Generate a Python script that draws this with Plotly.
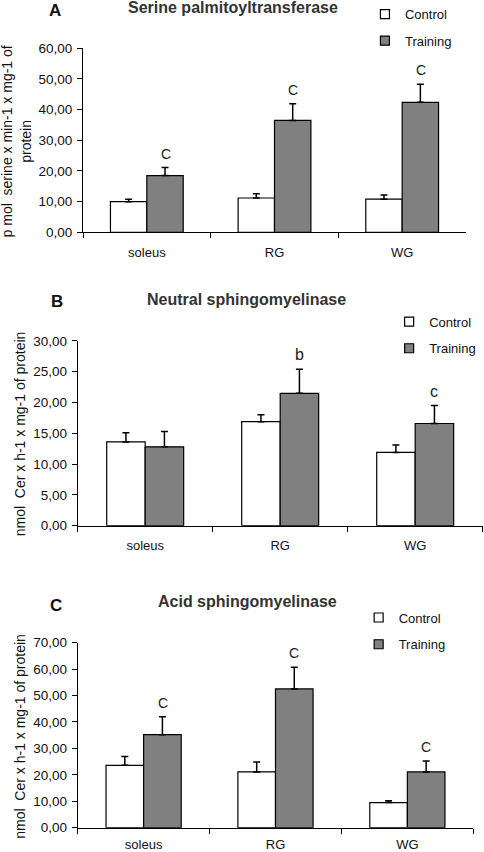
import plotly.graph_objects as go

categories = ["soleus", "RG", "WG"]

# Panel A: Serine palmitoyltransferase
a_control = [10.0, 11.2, 10.8]
a_control_err = [0.8, 1.4, 1.4]
a_training = [18.5, 36.5, 42.4]
a_training_err = [2.6, 5.4, 5.9]
a_letters = ["C", "C", "C"]

# Panel B: Neutral sphingomyelinase
b_control = [13.6, 16.9, 11.9]
b_control_err = [1.5, 1.1, 1.2]
b_training = [12.8, 21.5, 16.6]
b_training_err = [2.5, 3.9, 2.9]
b_letters = ["", "b", "c"]

# Panel C: Acid sphingomyelinase
c_control = [23.6, 21.1, 9.5]
c_control_err = [3.3, 3.8, 0.7]
c_training = [35.2, 52.5, 21.1]
c_training_err = [6.8, 8.2, 4.1]
c_letters = ["C", "C", "C"]

titles = ["Serine palmitoyltransferase", "Neutral sphingomyelinase", "Acid sphingomyelinase"]
panel_letters = ["A", "B", "C"]
ytitles = ["p mol  serine x min-1 x mg-1 of<br>protein",
           "nmol  Cer x h-1 x mg-1 of protein",
           "nmol  Cer x h-1 x mg-1 of protein"]
yranges = [[0, 60], [0, 30], [0, 70]]
ydticks = [10, 5, 10]

FONT = "Liberation Sans, Arial, sans-serif"
GRAY = "#808080"

panels = [
    (a_control, a_control_err, a_training, a_training_err, a_letters),
    (b_control, b_control_err, b_training, b_training_err, b_letters),
    (c_control, c_control_err, c_training, c_training_err, c_letters),
]

# layout geometry (paper fractions)
xdomains = [[0.1715, 0.9628], [0.1605, 0.9973], [0.1605, 0.9779]]
ydomains = [[0.7273, 0.9433], [0.3830, 0.5998], [0.0285, 0.2457]]
title_pos = [(0.481, 0.9912), (0.509, 0.6488), (0.511, 0.2938)]
letter_pos = [(0.1136, 0.9877), (0.117, 0.6459), (0.1163, 0.2899)]
ytitle_pos = [(0.034, 0.8345), (0.0413, 0.4914), (0.0413, 0.1364)]
legend_pos = [(0.754, 0.9833, 0.9522), (0.804, 0.6224, 0.5912), (0.741, 0.2752, 0.2438)]
xlabel_standoff = [8, 8, 5]

fig = go.Figure()
annotations = []

for i, (ctrl, ctrl_e, trn, trn_e, letters) in enumerate(panels):
    sfx = "" if i == 0 else str(i + 1)
    xa, ya = "x" + sfx, "y" + sfx
    fig.add_trace(go.Bar(
        x=categories, y=ctrl, name="Control", showlegend=False,
        marker=dict(color="white", line=dict(color="black", width=1.2)),
        error_y=dict(type="data", symmetric=False, array=ctrl_e, arrayminus=[0] * len(ctrl),
                     color="black", thickness=1.5, width=3.5),
        xaxis=xa, yaxis=ya))
    fig.add_trace(go.Bar(
        x=categories, y=trn, name="Training", showlegend=False,
        marker=dict(color=GRAY, line=dict(color="black", width=1.2)),
        error_y=dict(type="data", symmetric=False, array=trn_e, arrayminus=[0] * len(trn),
                     color="black", thickness=1.5, width=3.5),
        xaxis=xa, yaxis=ya))
    # legend entries
    lg1 = "legend" if i == 0 else "legend" + str(2 * i + 1)
    lg2 = "legend" + str(2 * i + 2)
    fig.add_trace(go.Scatter(
        x=[categories[0]], y=[None], mode="markers", name="Control", legend=lg1,
        marker=dict(symbol="square", size=9, color="white", line=dict(color="black", width=1.2)),
        xaxis=xa, yaxis=ya))
    fig.add_trace(go.Scatter(
        x=[categories[0]], y=[None], mode="markers", name="Training", legend=lg2,
        marker=dict(symbol="square", size=9, color=GRAY, line=dict(color="black", width=1.2)),
        xaxis=xa, yaxis=ya))

    fig.layout["xaxis" + sfx] = dict(
        domain=xdomains[i], anchor=ya, type="category", automargin=False,
        showline=True, linecolor="black", linewidth=1,
        ticks="outside", tickson="boundaries", ticklen=5, tickcolor="black",
        ticklabelstandoff=xlabel_standoff[i],
        tickfont=dict(family=FONT, size=13, color="#111"),
        showgrid=False, zeroline=False, fixedrange=True)
    fig.layout["yaxis" + sfx] = dict(
        domain=ydomains[i], anchor=xa, range=yranges[i], dtick=ydticks[i],
        automargin=False, ticklabelstandoff=2,
        tickformat=".2f", showline=True, linecolor="black", linewidth=1,
        ticks="outside", ticklen=5, tickcolor="black",
        tickfont=dict(family=FONT, size=13.5, color="#111"),
        showgrid=False, zeroline=False, fixedrange=True)

    # significance letters above training bars
    for cat, v, e, L in zip(categories, trn, trn_e, letters):
        if L:
            annotations.append(dict(
                x=cat, y=v + e, xref=xa, yref=ya, text=L, showarrow=False,
                xshift=19, yshift=4, xanchor="center", yanchor="bottom",
                font=dict(family=FONT, size=14 if L.isupper() else 16, color="#222")))

    annotations.append(dict(
        x=title_pos[i][0], y=title_pos[i][1], xref="paper", yref="paper",
        xanchor="center", yanchor="middle",
        text="<b>" + titles[i] + "</b>", showarrow=False,
        font=dict(family=FONT, size=16, color="#333")))
    annotations.append(dict(
        x=letter_pos[i][0], y=letter_pos[i][1], xref="paper", yref="paper",
        xanchor="center", yanchor="middle",
        text="<b>" + panel_letters[i] + "</b>", showarrow=False,
        font=dict(family=FONT, size=17, color="#111")))
    annotations.append(dict(
        x=ytitle_pos[i][0], y=ytitle_pos[i][1], xref="paper", yref="paper",
        xanchor="center", yanchor="middle",
        text=ytitles[i], showarrow=False, textangle=-90,
        font=dict(family=FONT, size=14, color="#111")))

legends = {}
for i in range(3):
    lx, ly1, ly2 = legend_pos[i]
    k1 = "legend" if i == 0 else "legend" + str(2 * i + 1)
    k2 = "legend" + str(2 * i + 2)
    for k, yy in ((k1, ly1), (k2, ly2)):
        legends[k] = dict(x=lx, y=yy, xanchor="left", yanchor="middle",
                          bgcolor="rgba(0,0,0,0)", borderwidth=0,
                          font=dict(family=FONT, size=13, color="#111"))

fig.update_layout(
    template="none",
    width=484, height=852,
    margin=dict(l=0, r=0, t=0, b=0, autoexpand=False),
    paper_bgcolor="white", plot_bgcolor="white",
    barmode="group", bargap=0.43, bargroupgap=0,
    separators=", ",
    annotations=annotations,
    **legends,
)

fig.write_html("out.html",
               config={"displayModeBar": False},
               post_script="document.body.style.margin='0';document.body.style.overflow='hidden';")
